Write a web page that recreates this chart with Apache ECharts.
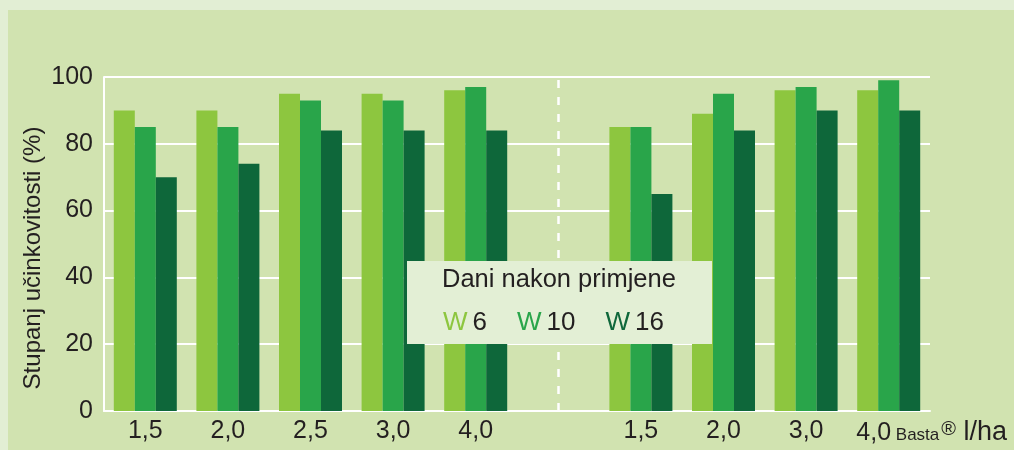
<!DOCTYPE html>
<html>
<head>
<meta charset="utf-8">
<style>
  html, body { margin: 0; padding: 0; background: #e2eed4; }
  #chart { width: 1014px; height: 450px; }
</style>
<script src="https://cdn.jsdelivr.net/npm/echarts@6/dist/echarts.min.js"></script>
</head>
<body>
<div id="chart"></div>
<script>
// ---- data ----
var dosesLeft = ['1,5', '2,0', '2,5', '3,0', '4,0'];
var dosesRight = ['1,5', '2,0', '3,0', '4,0'];
var seriesNames = ['6', '10', '16'];
var w6Left = [90, 90, 95, 95, 96];
var w6Right = [85, 89, 96, 96];
var w10Left = [85, 85, 93, 93, 97];
var w10Right = [85, 95, 97, 99];
var w16Left = [70, 74, 84, 84, 84];
var w16Right = [65, 84, 90, 90];
var yTicks = [0, 20, 40, 60, 80, 100];
var legendTitle = 'Dani nakon primjene';
var yAxisTitle = 'Stupanj učinkovitosti (%)';
var unitLabel = 'Basta';
var unitSuffix = 'l/ha';

// ---- build ----
var categories = dosesLeft.concat(['']).concat(dosesRight);
function join(a, b) { return a.concat([null]).concat(b); }
var values = [join(w6Left, w6Right), join(w10Left, w10Right), join(w16Left, w16Right)];
var colors = ['#8dc63f', '#29a54a', '#0e673a'];
var textColor = '#231f20';
var font = 'Liberation Sans, Arial, sans-serif';
var dividerIndex = dosesLeft.length;
var lastIndex = categories.length - 1;

var series = seriesNames.map(function (name, i) {
  var s = {
    name: name,
    type: 'bar',
    data: values[i],
    barWidth: 21,
    barGap: '0%',
    itemStyle: { color: colors[i] },
    emphasis: { disabled: true }
  };
  if (i === 1) {
    s.markLine = {
      silent: true,
      symbol: 'none',
      label: { show: false },
      lineStyle: { color: '#ffffff', width: 2.5, type: [8, 9] },
      data: [{ xAxis: dividerIndex }]
    };
  }
  return s;
});

var chart = echarts.init(document.getElementById('chart'));
chart.setOption({
  animation: false,
  backgroundColor: '#e2eed4',
  textStyle: { fontFamily: font },
  graphic: [
    { type: 'rect', z: -10, silent: true, shape: { x: 8, y: 10, width: 1006, height: 440 }, style: { fill: '#d1e3b0' } },
    { type: 'rect', z: 10, silent: true, shape: { x: 407, y: 261, width: 305, height: 83 }, style: { fill: '#e3efd5' } }
  ],
  title: {
    text: legendTitle,
    left: 442,
    top: 267,
    padding: 0,
    z: 20,
    textStyle: { fontFamily: font, fontSize: 25.5, fontWeight: 'normal', color: textColor }
  },
  legend: {
    data: seriesNames,
    left: 438,
    top: 310,
    padding: 0,
    icon: 'none',
    itemWidth: 0,
    itemHeight: 0,
    itemGap: 25,
    z: 20,
    selectedMode: false,
    formatter: function (name) {
      var i = seriesNames.indexOf(name);
      return '{w' + i + '|W}{n|' + name + '}';
    },
    textStyle: {
      fontFamily: font,
      fontSize: 26,
      color: textColor,
      rich: {
        w0: { color: colors[0], fontSize: 26, fontFamily: font },
        w1: { color: colors[1], fontSize: 26, fontFamily: font },
        w2: { color: colors[2], fontSize: 26, fontFamily: font },
        n: { color: textColor, fontSize: 26, fontFamily: font, padding: [0, 0, 0, 5] }
      }
    }
  },
  grid: { left: 104, right: 84, top: 77, bottom: 39, containLabel: false },
  xAxis: {
    type: 'category',
    data: categories,
    axisLine: { lineStyle: { color: '#ffffff', width: 2 } },
    axisTick: { show: false },
    axisLabel: {
      interval: 0,
      margin: 8,
      fontSize: 25,
      color: textColor,
      fontFamily: font,
      formatter: function (value, index) {
        if (index === lastIndex) {
          return '{sp|\u00a0}{n|' + value + '}{b| ' + unitLabel + '}{r|\u00ae}{s| ' + unitSuffix + '}';
        }
        return value;
      },
      rich: {
        sp: { width: 86, fontSize: 25 },
        n: { fontSize: 25, color: textColor, fontFamily: font, verticalAlign: 'bottom' },
        s: { fontSize: 27, color: textColor, fontFamily: font, verticalAlign: 'bottom' },
        b: { fontSize: 17, color: textColor, fontFamily: font, verticalAlign: 'bottom', padding: [0, 0, 2, 0] },
        r: { fontSize: 20, color: textColor, fontFamily: font, verticalAlign: 'bottom', padding: [0, 0, 7, 2] }
      }
    }
  },
  yAxis: {
    type: 'value',
    min: yTicks[0],
    max: yTicks[yTicks.length - 1],
    interval: yTicks[1] - yTicks[0],
    name: yAxisTitle,
    nameLocation: 'middle',
    nameGap: 59,
    nameMoveOverlap: false,
    nameTextStyle: { fontSize: 24, color: textColor, fontFamily: font, padding: [0, 28, 0, 0] },
    axisLine: { show: true, lineStyle: { color: '#ffffff', width: 2 } },
    axisTick: { show: false },
    splitLine: { lineStyle: { color: '#ffffff', width: 2 } },
    axisLabel: { fontSize: 25, color: textColor, fontFamily: font, margin: 11 }
  },
  series: series
});
</script>
</body>
</html>
